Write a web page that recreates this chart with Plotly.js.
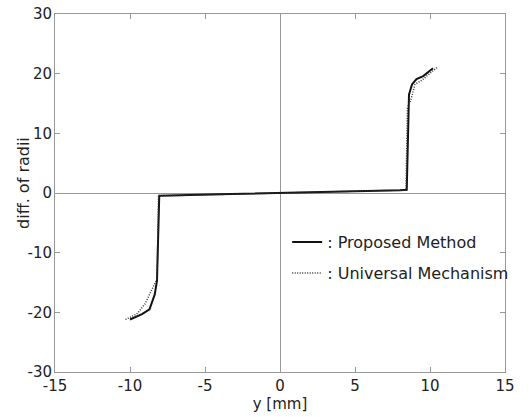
<!DOCTYPE html>
<html>
<head>
<meta charset="utf-8">
<script src="https://cdn.plot.ly/plotly-3.0.1.min.js"></script>
<style>html,body{margin:0;padding:0;background:#fff;}#chart{width:529px;height:417px;}</style>
</head>
<body>
<div id="chart"></div>
<script>
// Proposed Method (solid)
const proposedX = [-10.0, -9.7, -9.2, -8.7, -8.35, -8.2, -8.15, -8.1, -8.05, -4.0, 0.0, 4.0, 8.0, 8.45, 8.5, 8.55, 8.6, 8.8, 9.1, 9.55, 10.2];
const proposedY = [-21.2, -20.9, -20.3, -19.5, -17.0, -14.7, -8.0, -0.6, -0.45, -0.2, 0.0, 0.2, 0.45, 0.55, 8.0, 14.6, 16.5, 18.2, 19.1, 19.6, 20.9];
// Universal Mechanism (dotted)
const universalX = [-10.3, -9.55, -9.0, -8.35, -8.2, -8.15, -8.1, 0.0, 8.0, 8.4, 8.45, 8.5, 8.7, 9.0, 9.45, 10.5];
const universalY = [-21.2, -20.3, -18.6, -15.2, -14.4, -8.0, -0.5, 0.0, 0.45, 0.5, 8.0, 14.4, 15.4, 18.2, 18.9, 21.1];
const seriesNames = [': Proposed Method', ': Universal Mechanism'];
const xTicks = [-15, -10, -5, 0, 5, 10, 15];
const yTicks = [-30, -20, -10, 0, 10, 20, 30];
const xTitle = 'y [mm]';
const yTitle = 'diff. of radii';

const FONT = 'DejaVu Sans, Liberation Sans, Arial, sans-serif';
const traces = [
  {x: proposedX, y: proposedY, name: seriesNames[0], mode: 'lines', legendgroup: 'a',
   line: {color: '#111', width: 2}},
  {x: universalX, y: universalY, name: seriesNames[1], mode: 'lines', legendgroup: 'b',
   line: {color: '#333', width: 1.5, dash: '1px,1.5px'}}
];
const axisCommon = {
  showline: true, linecolor: '#999', linewidth: 1, mirror: 'ticks',
  ticks: 'inside', ticklen: 5, tickcolor: '#999', tickwidth: 1,
  showgrid: false, zeroline: true, zerolinecolor: '#999', zerolinewidth: 1,
  tickfont: {family: FONT, size: 15, color: '#222'}, tickmode: 'array'
};
const layout = {
  width: 529, height: 417,
  margin: {l: 55, r: 24, t: 14, b: 45},
  paper_bgcolor: '#fff', plot_bgcolor: '#fff',
  showlegend: true,
  legend: {x: 0.516, y: 0.41, xanchor: 'left', yanchor: 'top', bgcolor: 'rgba(0,0,0,0)',
           borderwidth: 0, tracegroupgap: 7, itemwidth: 30,
           font: {family: FONT, size: 16, color: '#222'}},
  xaxis: Object.assign({}, axisCommon, {range: [-15, 15], tickvals: xTicks, ticktext: xTicks.map(String),
    ticklabelstandoff: 0,
    title: {text: xTitle, font: {family: FONT, size: 15, color: '#222'}, standoff: 2}}),
  yaxis: Object.assign({}, axisCommon, {range: [-30, 30], tickvals: yTicks, ticktext: yTicks.map(String),
    ticklabelstandoff: -1}),
  annotations: [{
    text: yTitle, xref: 'paper', yref: 'paper', x: -0.069, y: 0.528,
    xanchor: 'center', yanchor: 'middle', textangle: -90, showarrow: false,
    font: {family: FONT, size: 16, color: '#222'}
  }]
};
Plotly.newPlot('chart', traces, layout, {staticPlot: true, displayModeBar: false});
</script>
</body>
</html>
